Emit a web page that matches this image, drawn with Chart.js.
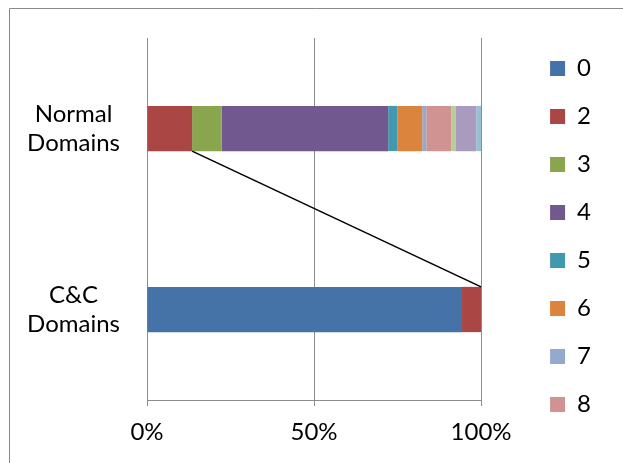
<!DOCTYPE html>
<html>
<head>
<meta charset="utf-8">
<script src="https://cdn.jsdelivr.net/npm/chart.js@4"></script>
<style>
  html, body { margin: 0; padding: 0; background: #fff; }
  canvas { display: block; }
</style>
</head>
<body>
<canvas id="c" width="623" height="463"></canvas>
<script>
// ---- data ----
const categories = [['Normal', 'Domains'], ['C&C', 'Domains']];
const seriesNames = ['0', '2', '3', '4', '5', '6', '7', '8', '9', '10', '11'];
const normalDomains = [0, 13.5, 8.8, 49.9, 2.7, 7.5, 1.2, 7.5, 1.2, 6.3, 1.4];
const ccDomains = [94.3, 5.7, 0, 0, 0, 0, 0, 0, 0, 0, 0];
const seriesColors = ['#4572A7', '#AA4643', '#89A54E', '#71588F', '#4198AF', '#DB843D',
                      '#93A9CF', '#D19392', '#B9CD96', '#A99BBD', '#92C3D5'];
const xTickValues = [0, 50, 100];
const legendShownCount = 8;
const connectorSeries = '2';

Chart.defaults.font.family = 'Lato';
Chart.defaults.font.size = 24;
Chart.defaults.color = '#000';

const datasets = seriesNames.map((name, i) => ({
  label: name,
  data: [normalDomains[i], ccDomains[i]],
  backgroundColor: seriesColors[i],
  borderWidth: 0,
  categoryPercentage: 0.25,
  barPercentage: 1.0
}));

const framePlugin = {
  id: 'frame',
  beforeDraw(chart) {
    const ctx = chart.ctx;
    ctx.save();
    ctx.strokeStyle = '#8a8a8a';
    ctx.lineWidth = 1;
    ctx.beginPath();
    ctx.moveTo(9.5, chart.height);
    ctx.lineTo(9.5, 8.5);
    ctx.lineTo(chart.width, 8.5);
    ctx.stroke();
    ctx.restore();
  }
};

const seriesLinePlugin = {
  id: 'seriesLine',
  afterDatasetsDraw(chart) {
    const idx = seriesNames.indexOf(connectorSeries);
    const meta = chart.getDatasetMeta(idx);
    const a = meta.data[0], b = meta.data[1];
    if (!a || !b) return;
    const ctx = chart.ctx;
    ctx.save();
    ctx.strokeStyle = '#000';
    ctx.lineWidth = 1.6;
    ctx.beginPath();
    ctx.moveTo(a.x, a.y + a.height / 2);
    ctx.lineTo(b.x, b.y - b.height / 2);
    ctx.stroke();
    ctx.restore();
  }
};

new Chart(document.getElementById('c'), {
  type: 'bar',
  data: { labels: categories, datasets },
  plugins: [framePlugin, seriesLinePlugin],
  options: {
    indexAxis: 'y',
    responsive: false,
    animation: false,
    layout: { padding: { top: 10, right: 22, bottom: 0, left: 0 } },
    plugins: {
      tooltip: { enabled: false },
      legend: {
        position: 'right',
        labels: {
          boxWidth: 15,
          boxHeight: 15,
          padding: 24,
          font: { size: 24 },
          color: '#000',
          filter: (item) => item.datasetIndex < legendShownCount
        }
      }
    },
    scales: {
      x: {
        stacked: true,
        min: 0,
        max: 100,
        afterBuildTicks: (s) => { s.ticks = xTickValues.map(v => ({ value: v })); },
        ticks: {
          callback: (v) => v + '%',
          padding: 12,
          maxRotation: 0,
          font: { size: 24 },
          color: '#000'
        },
        grid: { color: '#8c8c8c', lineWidth: 1, tickLength: 6, drawTicks: true },
        border: { display: true, color: '#8c8c8c', width: 1 },
        afterFit: (s) => { s.height = 63; s.paddingLeft = 0; s.paddingRight = 0; }
      },
      y: {
        stacked: true,
        grid: { display: false },
        border: { display: false },
        ticks: {
          crossAlign: 'center',
          padding: 19,
          font: { size: 24 },
          color: '#000'
        },
        afterFit: (s) => { s.width = 147; s.paddingTop = 38; s.paddingBottom = 0; }
      },
      yPad: {
        type: 'category',
        position: 'right',
        grid: { display: false },
        border: { display: false },
        ticks: { display: false },
        afterFit: (s) => { s.width = 45; s.paddingTop = 0; s.paddingBottom = 0; }
      }
    }
  }
});
</script>
</body>
</html>
